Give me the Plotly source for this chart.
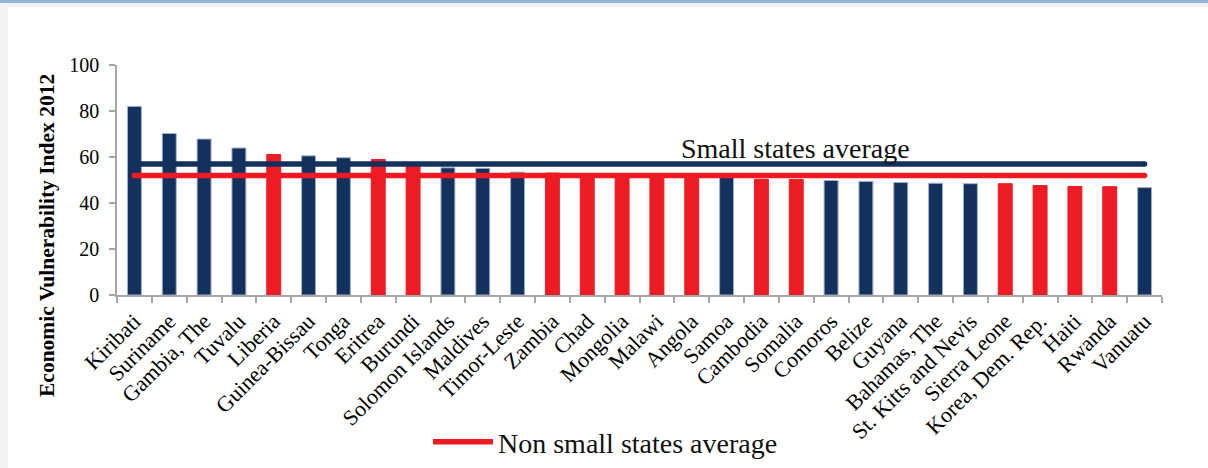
import plotly.graph_objects as go

# Economic Vulnerability Index 2012, sorted from most to least vulnerable
countries = [
    "Kiribati", "Suriname", "Gambia, The", "Tuvalu", "Liberia", "Guinea-Bissau",
    "Tonga", "Eritrea", "Burundi", "Solomon Islands", "Maldives", "Timor-Leste",
    "Zambia", "Chad", "Mongolia", "Malawi", "Angola", "Samoa", "Cambodia",
    "Somalia", "Comoros", "Belize", "Guyana", "Bahamas, The",
    "St. Kitts and Nevis", "Sierra Leone", "Korea, Dem. Rep.", "Haiti",
    "Rwanda", "Vanuatu",
]
evi_values = [
    82.0, 70.2, 67.8, 63.9, 61.1, 60.5,
    59.7, 58.9, 56.5, 55.3, 55.1, 53.4,
    53.0, 52.8, 52.6, 52.4, 52.2, 51.6, 50.3,
    50.2, 49.8, 49.4, 48.9, 48.6,
    48.4, 48.4, 47.6, 47.2,
    47.1, 46.7,
]
is_small_state = [
    True, True, True, True, False, True,
    True, False, False, True, True, True,
    False, False, False, False, False, True, False,
    False, True, True, True, True,
    True, False, False, False,
    False, True,
]
small_states_average = 57.0
non_small_states_average = 52.0

y_ticks = [0, 20, 40, 60, 80, 100]

NAVY = "#13315c"
RED = "#ed1c24"
AXIS_GREY = "#a6a6a6"

bar_colors = [NAVY if s else RED for s in is_small_state]
bar_edges = ["#9fb0c6" if s else RED for s in is_small_state]

fig = go.Figure()

fig.add_trace(go.Bar(
    x=countries, y=evi_values,
    marker=dict(color=bar_colors, line=dict(color=bar_edges, width=1)),
    width=0.4, showlegend=False,
))

ends = [countries[0], countries[-1]]

# Small states average line (labelled with text above it)
fig.add_trace(go.Scatter(
    x=ends, y=[small_states_average] * 2, mode="lines",
    line=dict(color=NAVY, width=5.5), showlegend=False,
))
fig.add_trace(go.Scatter(
    x=ends, y=[small_states_average] * 2, mode="markers",
    marker=dict(color=NAVY, size=5.5, line=dict(width=0)), showlegend=False,
))

# Non small states average line (shown in the legend)
fig.add_trace(go.Scatter(
    x=ends, y=[non_small_states_average] * 2, mode="lines",
    line=dict(color=RED, width=5.5), name="Non small states average",
))
fig.add_trace(go.Scatter(
    x=ends, y=[non_small_states_average] * 2, mode="markers",
    marker=dict(color=RED, size=5.5, line=dict(width=0)), showlegend=False,
))

W, H = 1208, 468
L, R, T, B = 117, 46, 65, 173
PW, PH = W - L - R, H - T - B


def px_x(px):
    return (px - L) / PW


def px_y(py):
    return (H - B - py) / PH


# Window-style frame around the chart
shapes = [
    dict(type="rect", xref="paper", yref="paper", layer="below",
         x0=px_x(0), x1=px_x(W), y0=px_y(0), y1=px_y(3),
         fillcolor="#95b3d7", line=dict(width=0)),
    dict(type="rect", xref="paper", yref="paper", layer="below",
         x0=px_x(0), x1=px_x(W), y0=px_y(3), y1=px_y(7),
         fillcolor="#f2f2f2", line=dict(width=0)),
    dict(type="rect", xref="paper", yref="paper", layer="below",
         x0=px_x(0), x1=px_x(8), y0=px_y(7), y1=px_y(H),
         fillcolor="#f2f2f2", line=dict(width=0)),
]

annotations = [
    dict(text="Small states average", xref="paper", yref="paper",
         x=px_x(795), y=px_y(148), xanchor="center", yanchor="middle",
         showarrow=False,
         font=dict(family="Liberation Serif", size=28, color="#111111")),
    dict(text="<b>Economic Vulnerability Index 2012</b>", xref="paper", yref="paper",
         x=px_x(47), y=px_y(236), xanchor="center", yanchor="middle",
         showarrow=False, textangle=-90,
         font=dict(family="Liberation Serif", size=21.5, color="#000000")),
]

fig.update_layout(
    width=W, height=H,
    margin=dict(l=L, r=R, t=T, b=B, autoexpand=False),
    paper_bgcolor="white", plot_bgcolor="white",
    shapes=shapes, annotations=annotations,
    font=dict(family="Liberation Serif", color="#000000"),
    legend=dict(
        x=px_x(428), y=px_y(417), xanchor="left", yanchor="top",
        orientation="h", bgcolor="rgba(0,0,0,0)",
        font=dict(family="Liberation Serif", size=28, color="#111111"),
        itemwidth=60,
    ),
    xaxis=dict(
        type="category", range=[-0.5, len(countries) - 0.5],
        showline=True, linecolor=AXIS_GREY, linewidth=1.5,
        ticks="outside", tickson="boundaries", ticklen=6, tickcolor=AXIS_GREY,
        tickwidth=1.5, tickangle=-45, showgrid=False, ticklabelstandoff=3,
        tickfont=dict(family="Liberation Serif", size=22, color="#000000"),
    ),
    yaxis=dict(
        range=[0, 100], tickvals=y_ticks,
        showline=True, linecolor=AXIS_GREY, linewidth=1.5,
        ticks="outside", ticklen=6, tickcolor=AXIS_GREY, tickwidth=1.5,
        ticklabelstandoff=6,
        showgrid=False, zeroline=False,
        tickfont=dict(family="Liberation Serif", size=20, color="#000000"),
    ),
)

fig.write_html("out.html")
